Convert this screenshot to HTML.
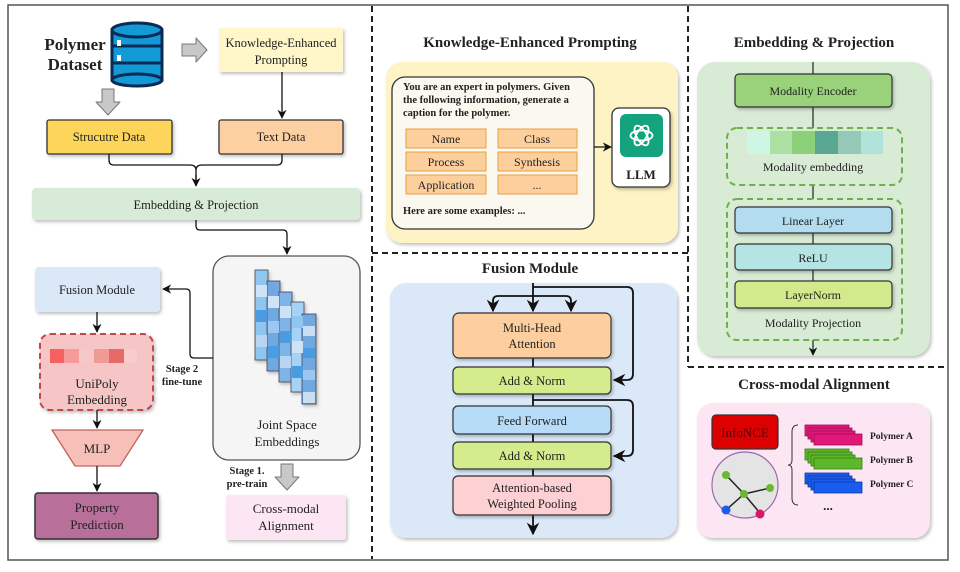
<!DOCTYPE html>
<html><head><meta charset="utf-8"><style>
html,body{margin:0;padding:0;background:#fff}
svg{display:block}
text{font-family:"Liberation Serif",serif;fill:#222}
.b{font-weight:bold}
</style></head><body>
<svg width="960" height="572" viewBox="0 0 960 572" xmlns="http://www.w3.org/2000/svg">
<defs>
<marker id="ah" viewBox="0 0 10 10" refX="9" refY="5" markerWidth="7" markerHeight="7" orient="auto"><path d="M0,0 L10,5 L0,10 L3,5 z" fill="#111"/></marker>
<filter id="sh" x="-10%" y="-10%" width="130%" height="130%"><feDropShadow dx="1.5" dy="2" stdDeviation="1.5" flood-color="#000" flood-opacity="0.25"/></filter>
</defs>
<rect x="8" y="5" width="940" height="555" fill="#fff" stroke="#555" stroke-width="1.5"/>
<g stroke="#222" stroke-width="2" stroke-dasharray="6,4" fill="none">
<line x1="372" y1="6" x2="372" y2="559"/>
<line x1="688" y1="6" x2="688" y2="367"/>
<line x1="372" y1="253" x2="688" y2="253"/>
<line x1="688" y1="367" x2="947" y2="367"/>
</g>

<!-- LEFT PANEL -->
<text x="75" y="50" font-size="17" class="b" text-anchor="middle">Polymer</text>
<text x="75" y="70" font-size="17" class="b" text-anchor="middle">Dataset</text>
<g stroke="#0b2a55" stroke-width="3">
<rect x="112" y="30" width="50" height="50" fill="#129ad6"/>
<ellipse cx="137" cy="80" rx="25" ry="6" fill="#129ad6"/>
<ellipse cx="137" cy="30" rx="25" ry="7" fill="#129ad6"/>
<line x1="112" y1="46" x2="162" y2="46"/>
<line x1="112" y1="63" x2="162" y2="63"/>
</g>
<rect x="117" y="40" width="4" height="6" fill="#fff"/><rect x="117" y="55" width="4" height="6" fill="#fff"/>
<path d="M182,44 L196,44 L196,38 L207,50 L196,62 L196,56 L182,56 z" fill="#c8c8c8" stroke="#777" stroke-linejoin="round"/>
<path d="M102,89 L114,89 L114,102 L120,102 L108,115 L96,102 L102,102 z" fill="#c8c8c8" stroke="#777" stroke-linejoin="round"/>
<rect x="219" y="28" width="124" height="44" fill="#fff7c9" filter="url(#sh)"/>
<text x="281" y="47" font-size="12.5" text-anchor="middle">Knowledge-Enhanced</text>
<text x="281" y="64" font-size="12.5" text-anchor="middle">Prompting</text>
<line x1="282" y1="72" x2="282" y2="118" stroke="#111" stroke-width="1.3" marker-end="url(#ah)"/>
<rect x="47" y="120" width="125" height="34" rx="2" fill="#fcd55a" stroke="#333" stroke-width="1.3" filter="url(#sh)"/>
<text x="109" y="141" font-size="12.5" text-anchor="middle">Strucutre Data</text>
<rect x="219" y="120" width="124" height="34" rx="2" fill="#fdd0a1" stroke="#333" stroke-width="1.3" filter="url(#sh)"/>
<text x="281" y="141" font-size="12.5" text-anchor="middle">Text Data</text>
<path d="M109,154 L109,160 Q109,165 114,165 L190,165 Q196,165 196,170 L196,184 M282,154 L282,160 Q282,165 277,165 L202,165 Q196,165 196,170" fill="none" stroke="#111" stroke-width="1.3"/>
<line x1="196" y1="175" x2="196" y2="186" stroke="#111" stroke-width="1.3" marker-end="url(#ah)"/>
<rect x="32" y="188" width="328" height="32" rx="4" fill="#d8ebd8" filter="url(#sh)"/>
<text x="196" y="209" font-size="12.5" text-anchor="middle">Embedding &amp; Projection</text>
<path d="M196,220 L196,226 Q196,230 200,230 L283,230 Q287,230 287,234 L287,254" fill="none" stroke="#111" stroke-width="1.3" marker-end="url(#ah)"/>
<rect x="213" y="256" width="147" height="204" rx="16" fill="#f5f5f5" stroke="#555" stroke-width="1.3"/>
<g stroke="#445" stroke-width="0.8" filter="url(#sh)">
<rect x="255" y="270" width="13" height="90" fill="#8ec6f0"/>
<rect x="267" y="281" width="13" height="90" fill="#6fa8e0"/>
<rect x="279" y="292" width="13" height="90" fill="#7fb4e8"/>
<rect x="291" y="302" width="13" height="90" fill="#a6d3f5"/>
<rect x="302" y="314" width="14" height="90" fill="#6fa8e0"/>
</g>
<g>
<rect x="256" y="285" width="11" height="12" fill="#cfe3f6"/><rect x="256" y="310" width="11" height="12" fill="#4a9be0"/><rect x="256" y="335" width="11" height="12" fill="#b8d4f0"/>
<rect x="268" y="296" width="11" height="12" fill="#cfe3f6"/><rect x="268" y="321" width="11" height="12" fill="#9cc7f0"/><rect x="268" y="346" width="11" height="12" fill="#4a9be0"/>
<rect x="280" y="306" width="11" height="12" fill="#cfe3f6"/><rect x="280" y="331" width="11" height="12" fill="#4a9be0"/><rect x="280" y="356" width="11" height="12" fill="#b8d4f0"/>
<rect x="292" y="316" width="11" height="12" fill="#8ec6f0"/><rect x="292" y="341" width="11" height="12" fill="#cfe3f6"/><rect x="292" y="366" width="11" height="12" fill="#4a9be0"/>
<rect x="303" y="326" width="12" height="10" fill="#c8def5"/><rect x="303" y="348" width="12" height="10" fill="#4a9be0"/><rect x="303" y="370" width="12" height="10" fill="#9cc7f0"/><rect x="303" y="392" width="12" height="11" fill="#c8def5"/>
</g>
<text x="287" y="429" font-size="13" text-anchor="middle">Joint Space</text>
<text x="287" y="446" font-size="13" text-anchor="middle">Embeddings</text>
<rect x="35" y="267" width="125" height="45" rx="4" fill="#dbe8f8" filter="url(#sh)"/>
<text x="97" y="294" font-size="12.5" text-anchor="middle">Fusion Module</text>
<path d="M213,358 L194,358 Q190,358 190,354 L190,293 Q190,289 186,289 L163,289" fill="none" stroke="#111" stroke-width="1.3" marker-end="url(#ah)"/>
<text x="182" y="372" font-size="10.5" class="b" text-anchor="middle">Stage 2</text>
<text x="182" y="385" font-size="10.5" class="b" text-anchor="middle">fine-tune</text>
<line x1="97" y1="312" x2="97" y2="332" stroke="#111" stroke-width="1.3" marker-end="url(#ah)"/>
<rect x="40" y="334" width="113" height="76" rx="10" fill="#f6c6c6" stroke="#c04848" stroke-width="2" stroke-dasharray="6,4" filter="url(#sh)"/>
<rect x="50" y="349" width="14" height="14" fill="#f56060"/><rect x="64" y="349" width="15" height="14" fill="#f69a9a"/><rect x="79" y="349" width="15" height="14" fill="#f8c8c8"/><rect x="94" y="349" width="15" height="14" fill="#f09a95"/><rect x="109" y="349" width="15" height="14" fill="#e86a66"/><rect x="124" y="349" width="13" height="14" fill="#f8cccc"/>
<text x="97" y="388" font-size="13" text-anchor="middle">UniPoly</text>
<text x="97" y="404" font-size="13" text-anchor="middle">Embedding</text>
<line x1="97" y1="410" x2="97" y2="428" stroke="#111" stroke-width="1.3" marker-end="url(#ah)"/>
<path d="M52,430 L143,430 L120,466 L75,466 z" fill="#f6c0b8" stroke="#c06060" stroke-width="1.3"/>
<text x="97" y="453" font-size="13" text-anchor="middle">MLP</text>
<line x1="97" y1="466" x2="97" y2="491" stroke="#111" stroke-width="1.3" marker-end="url(#ah)"/>
<rect x="35" y="493" width="123" height="46" rx="3" fill="#b86f9b" stroke="#333" stroke-width="1.5" filter="url(#sh)"/>
<text x="97" y="512" font-size="13" text-anchor="middle">Property</text>
<text x="97" y="529" font-size="13" text-anchor="middle">Prediction</text>
<path d="M281,464 L293,464 L293,477 L299,477 L287,490 L275,477 L281,477 z" fill="#c8c8c8" stroke="#777" stroke-linejoin="round"/>
<text x="247" y="474" font-size="10.5" class="b" text-anchor="middle">Stage 1.</text>
<text x="247" y="487" font-size="10.5" class="b" text-anchor="middle">pre-train</text>
<rect x="226" y="495" width="120" height="45" rx="3" fill="#fde6f3" filter="url(#sh)"/>
<text x="286" y="513" font-size="13" text-anchor="middle">Cross-modal</text>
<text x="286" y="530" font-size="13" text-anchor="middle">Alignment</text>

<!-- MIDDLE TOP -->
<text x="530" y="47" font-size="15" class="b" text-anchor="middle">Knowledge-Enhanced Prompting</text>
<rect x="386" y="62" width="292" height="181" rx="16" fill="#fdf3c4" filter="url(#sh)"/>
<rect x="392" y="77" width="202" height="152" rx="13" fill="#faf8ef" stroke="#333" stroke-width="1.3"/>
<text x="403" y="90" font-size="10.5" class="b">You are an expert in polymers. Given</text>
<text x="403" y="103" font-size="10.5" class="b">the following information, generate a</text>
<text x="403" y="116" font-size="10.5" class="b">caption for the polymer.</text>
<g fill="#fdcf9d" stroke="#e8a040" stroke-width="1">
<rect x="406" y="129" width="80" height="19"/><rect x="498" y="129" width="79" height="19"/>
<rect x="406" y="152" width="80" height="19"/><rect x="498" y="152" width="79" height="19"/>
<rect x="406" y="175" width="80" height="19"/><rect x="498" y="175" width="79" height="19"/>
</g>
<g font-size="12" text-anchor="middle">
<text x="446" y="143">Name</text><text x="537" y="143">Class</text>
<text x="446" y="166">Process</text><text x="537" y="166">Synthesis</text>
<text x="446" y="189">Application</text><text x="537" y="189">...</text>
</g>
<text x="403" y="214" font-size="10.5" class="b">Here are some examples: ...</text>
<line x1="594" y1="147" x2="611" y2="147" stroke="#111" stroke-width="1.3" marker-end="url(#ah)"/>
<rect x="612" y="108" width="58" height="79" rx="7" fill="#fff" stroke="#333" stroke-width="1.3" filter="url(#sh)"/>
<rect x="620" y="114" width="43" height="43" rx="6" fill="#13a37f"/>
<g fill="none" stroke="#fff" stroke-width="1.8">
<ellipse cx="641.5" cy="135.5" rx="11" ry="5"/><ellipse cx="641.5" cy="135.5" rx="11" ry="5" transform="rotate(60 641.5 135.5)"/><ellipse cx="641.5" cy="135.5" rx="11" ry="5" transform="rotate(120 641.5 135.5)"/>
</g>
<text x="641" y="179" font-size="13" class="b" text-anchor="middle">LLM</text>

<!-- MIDDLE BOTTOM -->
<text x="530" y="273" font-size="15" class="b" text-anchor="middle">Fusion Module</text>
<rect x="390" y="283" width="287" height="255" rx="16" fill="#dbe8f8" filter="url(#sh)"/>
<g fill="none" stroke="#111" stroke-width="1.8">
<line x1="533" y1="283" x2="533" y2="311" marker-end="url(#ah)"/>
<path d="M533,296 L498,296 Q493,296 493,301 L493,311" marker-end="url(#ah)"/>
<path d="M533,296 L566,296 Q571,296 571,301 L571,311" marker-end="url(#ah)"/>
<path d="M533,287 L627,287 Q633,287 633,293 L633,374 Q633,380 627,380 L614,380" marker-end="url(#ah)"/>
<path d="M533,400 L627,400 Q633,400 633,406 L633,450 Q633,456 627,456 L614,456" marker-end="url(#ah)"/>
<line x1="533" y1="358" x2="533" y2="367"/><line x1="533" y1="394" x2="533" y2="406"/><line x1="533" y1="434" x2="533" y2="442"/><line x1="533" y1="469" x2="533" y2="476"/>
<line x1="533" y1="515" x2="533" y2="534" marker-end="url(#ah)"/>
</g>
<g stroke="#333" stroke-width="1.2" filter="url(#sh)">
<rect x="453" y="313" width="158" height="45" rx="6" fill="#fdcf9f"/>
<rect x="453" y="367" width="158" height="27" rx="5" fill="#d4ec8c"/>
<rect x="453" y="406" width="158" height="28" rx="5" fill="#b7dcf8"/>
<rect x="453" y="442" width="158" height="27" rx="5" fill="#d4ec8c"/>
<rect x="453" y="476" width="158" height="39" rx="5" fill="#fdd0d4"/>
</g>
<g font-size="12.5" text-anchor="middle">
<text x="532" y="332">Multi-Head</text><text x="532" y="348">Attention</text>
<text x="532" y="385">Add &amp; Norm</text>
<text x="532" y="425">Feed Forward</text>
<text x="532" y="460">Add &amp; Norm</text>
<text x="532" y="492">Attention-based</text><text x="532" y="508">Weighted Pooling</text>
</g>

<!-- RIGHT TOP -->
<text x="814" y="47" font-size="15" class="b" text-anchor="middle">Embedding &amp; Projection</text>
<rect x="697" y="62" width="233" height="294" rx="18" fill="#d8ebd5" filter="url(#sh)"/>
<g stroke="#222" stroke-width="1.2">
<line x1="813" y1="62" x2="813" y2="74"/><line x1="813" y1="107" x2="813" y2="128"/><line x1="813" y1="185" x2="813" y2="199"/><line x1="813" y1="233" x2="813" y2="244"/><line x1="813" y1="270" x2="813" y2="281"/>
<line x1="813" y1="340" x2="813" y2="355" marker-end="url(#ah)"/>
</g>
<rect x="735" y="74" width="157" height="33" rx="4" fill="#9ad27c" stroke="#333" stroke-width="1.2" filter="url(#sh)"/>
<text x="813" y="95" font-size="12" text-anchor="middle">Modality Encoder</text>
<rect x="727" y="128" width="175" height="57" rx="10" fill="none" stroke="#6cb14c" stroke-width="2" stroke-dasharray="6,4"/>
<rect x="747" y="131" width="23" height="23" fill="#cff5e5"/><rect x="770" y="131" width="22" height="23" fill="#ade0a4"/><rect x="792" y="131" width="23" height="23" fill="#8dd07a"/><rect x="815" y="131" width="23" height="23" fill="#5aa894"/><rect x="838" y="131" width="23" height="23" fill="#96c8b8"/><rect x="861" y="131" width="22" height="23" fill="#b0e4da"/>
<text x="813" y="171" font-size="12" text-anchor="middle">Modality embedding</text>
<rect x="727" y="199" width="175" height="141" rx="10" fill="none" stroke="#6cb14c" stroke-width="2" stroke-dasharray="6,4"/>
<g stroke="#333" stroke-width="1.2" filter="url(#sh)">
<rect x="735" y="207" width="157" height="26" rx="4" fill="#b3dcef"/>
<rect x="735" y="244" width="157" height="26" rx="4" fill="#b4e4e4"/>
<rect x="735" y="281" width="157" height="27" rx="4" fill="#d2ea8c"/>
</g>
<g font-size="12" text-anchor="middle">
<text x="813" y="225">Linear Layer</text><text x="813" y="262">ReLU</text><text x="813" y="299">LayerNorm</text>
<text x="813" y="327">Modality Projection</text>
</g>

<!-- RIGHT BOTTOM -->
<text x="814" y="389" font-size="15" class="b" text-anchor="middle">Cross-modal Alignment</text>
<rect x="697" y="403" width="233" height="135" rx="16" fill="#fde6f3" filter="url(#sh)"/>
<rect x="712" y="415" width="66" height="34" rx="4" fill="#dd0000" stroke="#333" stroke-width="1.2"/>
<text x="745" y="437" font-size="13" text-anchor="middle" style="fill:#5a0000">InfoNCE</text>
<circle cx="745" cy="485" r="33" fill="#e4e4e4" stroke="#9a6aaa" stroke-width="1.2"/>
<g stroke="#222" stroke-width="1.5">
<line x1="744" y1="494" x2="726" y2="475"/><line x1="744" y1="494" x2="770" y2="488"/><line x1="744" y1="494" x2="726" y2="510"/><line x1="744" y1="494" x2="760" y2="513"/>
</g>
<circle cx="744" cy="494" r="4" fill="#6ab830"/><circle cx="726" cy="475" r="4" fill="#6ab830"/><circle cx="770" cy="488" r="4" fill="#6ab830"/><circle cx="726" cy="510" r="4.5" fill="#1c5ce8"/><circle cx="760" cy="514" r="4.5" fill="#d81868"/>
<path d="M798,425 Q792,425 792,432 L792,460 Q792,465 788,465 Q792,465 792,470 L792,498 Q792,505 798,505" fill="none" stroke="#333" stroke-width="1"/>
<g stroke-width="0.8">
<g fill="#e0187a" stroke="#a01050"><rect x="805" y="425" width="44" height="11"/><rect x="808" y="428" width="44" height="11"/><rect x="811" y="431" width="44" height="11"/><rect x="814" y="434" width="48" height="11"/></g>
<g fill="#5cb82a" stroke="#3a7a18"><rect x="805" y="449" width="44" height="11"/><rect x="808" y="452" width="44" height="11"/><rect x="811" y="455" width="44" height="11"/><rect x="814" y="458" width="48" height="11"/></g>
<g fill="#1a5cf0" stroke="#0c3aa0"><rect x="805" y="473" width="44" height="11"/><rect x="808" y="476" width="44" height="11"/><rect x="811" y="479" width="44" height="11"/><rect x="814" y="482" width="48" height="11"/></g>
</g>
<g font-size="9.5" class="b">
<text x="870" y="439">Polymer A</text><text x="870" y="463">Polymer B</text><text x="870" y="487">Polymer C</text>
</g>
<text x="828" y="510" font-size="13" class="b" text-anchor="middle">...</text>
</svg>
</body></html>
